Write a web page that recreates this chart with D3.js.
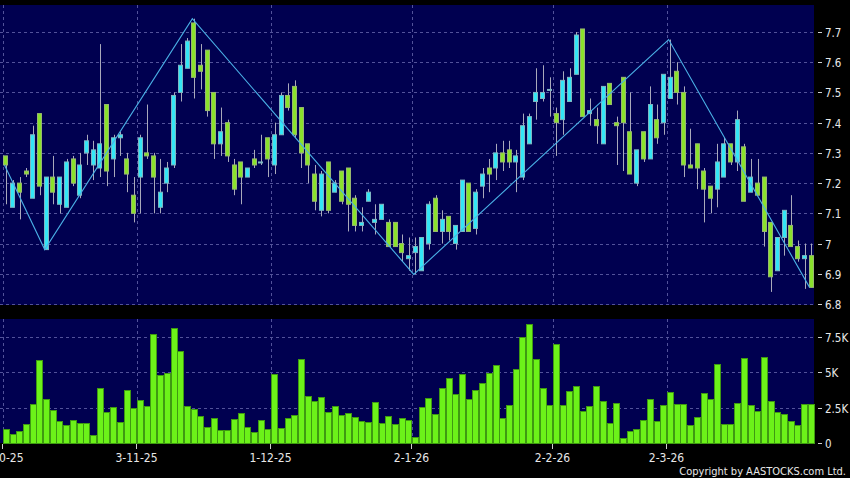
<!DOCTYPE html>
<html><head><meta charset="utf-8">
<script src="https://cdn.jsdelivr.net/npm/d3@7/dist/d3.min.js"></script>
<style>
html,body{margin:0;padding:0;background:#000;}
svg{display:block;}
text{font-family:"DejaVu Sans Condensed","DejaVu Sans",sans-serif;font-stretch:condensed;fill:#e8e8e8;}
</style></head>
<body>
<svg id="chart" width="850" height="478"></svg>
<script>
// ---------- DATA ----------
const dates = [
"2-10-25","3-10-25","6-10-25","8-10-25","9-10-25","10-10-25","13-10-25","14-10-25","15-10-25","16-10-25",
"17-10-25","20-10-25","21-10-25","22-10-25","23-10-25","24-10-25","27-10-25","28-10-25","30-10-25","31-10-25",
"3-11-25","4-11-25","5-11-25","6-11-25","7-11-25","10-11-25","11-11-25","12-11-25","13-11-25","14-11-25",
"17-11-25","18-11-25","19-11-25","20-11-25","21-11-25","24-11-25","25-11-25","26-11-25","27-11-25","28-11-25",
"1-12-25","2-12-25","3-12-25","4-12-25","5-12-25","8-12-25","9-12-25","10-12-25","11-12-25","12-12-25",
"15-12-25","16-12-25","17-12-25","18-12-25","19-12-25","22-12-25","23-12-25","24-12-25","29-12-25","30-12-25","31-12-25",
"2-1-26","5-1-26","6-1-26","7-1-26","8-1-26","9-1-26","12-1-26","13-1-26","14-1-26","15-1-26",
"16-1-26","19-1-26","20-1-26","21-1-26","22-1-26","23-1-26","26-1-26","27-1-26","28-1-26","29-1-26","30-1-26",
"2-2-26","3-2-26","4-2-26","5-2-26","6-2-26","9-2-26","10-2-26","11-2-26","12-2-26","13-2-26",
"16-2-26","20-2-26","23-2-26","24-2-26","25-2-26","26-2-26","27-2-26",
"2-3-26","3-3-26","4-3-26","5-3-26","6-3-26","9-3-26","10-3-26","11-3-26","12-3-26","13-3-26",
"16-3-26","17-3-26","18-3-26","19-3-26","20-3-26","23-3-26","24-3-26","25-3-26","26-3-26","27-3-26","30-3-26","31-3-26"
];
const open = [
7.29,7.12,7.20,7.24,7.15,7.43,6.98,7.22,7.13,7.12, 7.28,7.16,7.30,7.26,7.25,7.46,7.28,7.35,7.28,7.16,
7.22,7.30,7.29,7.12,7.20,7.26,7.50,7.58,7.73,7.59, 7.64,7.50,7.33,7.40,7.26,7.27,7.22,7.28,7.27,7.35,
7.26,7.36,7.49,7.52,7.45,7.33,7.23,7.11,7.27,7.17, 7.24,7.25,7.15,7.06,7.14,7.07,7.08,7.07,7.07,7.00,6.95,
6.97,6.91,7.00,7.15,7.04,7.09,7.00,7.04,7.20,7.05, 7.19,7.25,7.25,7.30,7.31,7.27,7.22,7.33,7.47,7.48,7.51,
7.43,7.41,7.47,7.56,7.71,7.43,7.41,7.33,7.53,7.40, 7.55,7.37,7.20,7.37,7.28,7.41,7.40,
7.48,7.57,7.50,7.26,7.33,7.24,7.19,7.18,7.22,7.33, 7.27,7.32,7.17,7.20,7.22,7.07,6.91,7.02,7.06,6.99,6.95,6.96
];
const high = [
7.29,7.21,7.22,7.25,7.39,7.43,7.22,7.29,7.22,7.28, 7.29,7.30,7.36,7.34,7.66,7.46,7.36,7.37,7.30,7.22,
7.36,7.46,7.30,7.28,7.27,7.50,7.66,7.68,7.744,7.66, 7.64,7.50,7.45,7.41,7.28,7.27,7.25,7.31,7.36,7.35,
7.40,7.50,7.53,7.54,7.45,7.33,7.26,7.24,7.27,7.21, 7.24,7.25,7.16,7.12,7.18,7.13,7.13,7.08,7.07,7.03,7.02,
7.02,7.02,7.14,7.16,7.11,7.09,7.06,7.21,7.20,7.18, 7.25,7.28,7.33,7.34,7.34,7.31,7.43,7.43,7.58,7.59,7.55,
7.45,7.57,7.58,7.70,7.71,7.48,7.45,7.52,7.53,7.42, 7.55,7.50,7.31,7.37,7.52,7.46,7.56,
7.675,7.60,7.52,7.38,7.33,7.25,7.19,7.33,7.35,7.33, 7.44,7.33,7.28,7.28,7.22,7.07,7.02,7.11,7.16,7.01,7.00,7.00
];
const low = [
7.13,7.12,7.08,7.22,7.15,7.16,6.98,7.13,7.10,7.12, 7.19,7.15,7.26,7.21,7.22,7.19,7.22,7.29,7.17,7.07,
7.10,7.28,7.10,7.10,7.17,7.25,7.47,7.58,7.48,7.51, 7.42,7.28,7.29,7.27,7.16,7.13,7.22,7.25,7.26,7.22,
7.23,7.36,7.44,7.35,7.25,7.20,7.11,7.09,7.10,7.17, 7.13,7.04,7.04,7.04,7.14,7.03,7.08,6.99,6.99,6.94,6.91,
6.898,6.91,6.98,7.04,7.00,7.01,6.98,7.04,7.04,7.03, 7.15,7.17,7.21,7.24,7.25,7.17,7.21,7.33,7.41,7.47,7.42,
7.29,7.36,7.47,7.56,7.42,7.39,7.33,7.33,7.46,7.26, 7.24,7.23,7.19,7.27,7.28,7.33,7.36,
7.48,7.46,7.22,7.25,7.18,7.07,7.10,7.12,7.22,7.26, 7.24,7.14,7.17,7.16,6.99,6.84,6.91,6.96,6.99,6.94,6.85,6.855
];
const close = [
7.26,7.20,7.17,7.23,7.36,7.19,7.22,7.17,7.22,7.27, 7.20,7.26,7.34,7.31,7.33,7.24,7.35,7.36,7.23,7.10,
7.35,7.29,7.22,7.17,7.25,7.49,7.59,7.67,7.55,7.57, 7.44,7.33,7.37,7.29,7.18,7.22,7.25,7.26,7.27,7.28,
7.36,7.49,7.45,7.36,7.30,7.26,7.14,7.23,7.11,7.20, 7.14,7.13,7.06,7.07,7.17,7.08,7.13,6.99,6.99,6.97,6.96,
6.99,7.02,7.13,7.04,7.08,7.04,7.06,7.21,7.04,7.17, 7.23,7.23,7.30,7.27,7.27,7.29,7.39,7.42,7.50,7.50,7.51,
7.40,7.54,7.55,7.69,7.42,7.44,7.39,7.52,7.46,7.39, 7.40,7.23,7.31,7.28,7.46,7.35,7.56,
7.55,7.50,7.26,7.25,7.25,7.18,7.15,7.27,7.33,7.27, 7.41,7.14,7.22,7.16,7.04,6.89,7.02,7.11,6.99,6.95,6.96,6.855
];
const volume = [ // thousands of shares
0.92,0.61,0.78,1.27,2.74,5.83,3.04,2.26,1.49,1.23, 1.58,1.39,1.39,0.52,3.87,2.12,2.52,1.46,3.68,2.41,
2.97,2.57,7.64,4.76,4.91,8.11,6.46,2.55,2.36,1.89, 1.11,1.72,0.90,0.90,1.65,2.05,1.11,0.75,1.56,0.97,
4.86,0.99,1.70,1.93,5.87,3.28,2.90,3.23,2.12,2.59, 1.93,2.08,1.79,1.51,1.42,2.85,1.37,1.84,1.32,1.75,1.60,
0.42,2.50,3.11,2.00,3.87,4.55,3.42,4.83,3.04,3.70, 4.22,4.93,5.50,1.72,2.64,5.17,7.41,8.35,5.87,3.82,2.62,
6.98,2.67,3.63,3.96,2.19,2.57,3.99,2.92,1.37,2.78, 0.33,0.80,0.92,1.60,3.04,1.53,2.64,
3.58,2.74,2.69,1.25,1.79,3.49,3.04,5.52,1.34,1.34, 2.78,5.94,2.62,2.19,6.06,2.95,2.12,2.00,1.53,1.20,2.69,2.74
];
const zigzagDates = ["2-10-25","13-10-25","13-11-25","2-1-26","2-3-26","31-3-26"];
const zigzagValues = [7.26, 6.98, 7.744, 6.898, 7.675, 6.855];
const tickLabels = ["2-10-25","3-11-25","1-12-25","2-1-26","2-2-26","2-3-26"];
const priceTicks = [6.8,6.9,7.0,7.1,7.2,7.3,7.4,7.5,7.6,7.7];
const volTicks = [0,2.5,5,7.5];
const volTickLabels = ["0","2.5K","5K","7.5K"];

// ---------- CHART ----------
const svg = d3.select("#chart");
svg.append("rect").attr("width",850).attr("height",478).attr("fill","#000");

const panelL = 0, panelR = 814;
const pTop = 5, pBot = 305, vTop = 319, vBot = 443;

const x = d3.scaleBand().domain(dates).range([2.8, 814.6]).padding(0);
const bw = x.bandwidth();
const y = d3.scaleLinear().domain([6.8, 7.7]).range([304, 32]);
const yv = d3.scaleLinear().domain([0, 7.5]).range([443, 336.7]);

const gridCol = "#52529a";
const data = dates.map((d,i)=>({d, o:open[i], h:high[i], l:low[i], c:close[i], v:volume[i]}));

// panels
svg.append("rect").attr("x",panelL).attr("y",pTop).attr("width",panelR-panelL).attr("height",pBot-pTop).attr("fill","#000050");
svg.append("rect").attr("x",panelL).attr("y",vTop).attr("width",panelR-panelL).attr("height",vBot-vTop).attr("fill","#000050");

const grid = svg.append("g").attr("stroke",gridCol).attr("stroke-width",1).attr("stroke-dasharray","3,3").attr("shape-rendering","crispEdges");
priceTicks.forEach(t=>{
  grid.append("line").attr("x1",panelL).attr("x2",panelR).attr("y1",Math.round(y(t))+0.5).attr("y2",Math.round(y(t))+0.5);
});
volTicks.slice(1).forEach(t=>{
  grid.append("line").attr("x1",panelL).attr("x2",panelR).attr("y1",Math.round(yv(t))+0.5).attr("y2",Math.round(yv(t))+0.5);
});
tickLabels.forEach(t=>{
  const gx = Math.round(x(t))+0.5;
  grid.append("line").attr("x1",gx).attr("x2",gx).attr("y1",pTop).attr("y2",pBot);
  grid.append("line").attr("x1",gx).attr("x2",gx).attr("y1",vTop).attr("y2",vBot);
});

// candles
const cg = svg.append("g");
const bodyW = bw*0.8;
data.forEach(k=>{
  const cx = Math.round(x(k.d)+bw/2);
  cg.append("line").attr("x1",cx+0.5).attr("x2",cx+0.5).attr("y1",y(k.h)).attr("y2",y(k.l))
    .attr("stroke","#a9a9bb").attr("stroke-width",1);
});
data.forEach(k=>{
  const cx = x(k.d)+bw/2;
  const up = k.c >= k.o;
  const top = y(Math.max(k.o,k.c)), bot = y(Math.min(k.o,k.c));
  cg.append("rect").attr("x",Math.round(cx-bodyW/2)+0.5).attr("y",top)
    .attr("width",Math.round(bodyW)-1).attr("height",Math.max(1,bot-top))
    .attr("fill", up ? "#33e6f6" : "#8ae22c")
    .attr("stroke", up ? "#7fb6c2" : "#98b870").attr("stroke-width",1);
});

// zigzag
const zz = zigzagDates.map((d,i)=>[x(d)+bw*0.25, y(zigzagValues[i])]);
svg.append("path").attr("d", d3.line()(zz)).attr("fill","none").attr("stroke","#4ab0e6").attr("stroke-width",1.1);

// volume bars
const vg = svg.append("g").attr("shape-rendering","crispEdges");
data.forEach(k=>{
  vg.append("rect").attr("x",Math.round(x(k.d))+0.5).attr("y",yv(k.v))
    .attr("width",Math.round(bw)-1).attr("height",yv(0)-yv(k.v))
    .attr("fill","#6cf219").attr("stroke","#3f9a12").attr("stroke-width",1);
});

// right axes
const ax = svg.append("g");
priceTicks.forEach(t=>{
  const ty = Math.round(y(t))+0.5;
  ax.append("line").attr("x1",818).attr("x2",822).attr("y1",ty).attr("y2",ty).attr("stroke","#cfcfcf");
  ax.append("text").attr("x",825).attr("y",ty).attr("dy","0.36em").attr("font-size",11.5)
    .text(d3.format("")(t));
});
volTicks.forEach((t,i)=>{
  const ty = Math.round(yv(t))+0.5;
  ax.append("line").attr("x1",818).attr("x2",822).attr("y1",ty).attr("y2",ty).attr("stroke","#cfcfcf");
  ax.append("text").attr("x",825).attr("y",ty).attr("dy","0.36em").attr("font-size",11.5).text(volTickLabels[i]);
});

// x axis
tickLabels.forEach(t=>{
  const gx = Math.round(x(t))-0.5;
  ax.append("line").attr("x1",gx).attr("x2",gx).attr("y1",444).attr("y2",449).attr("stroke","#cfcfcf");
  ax.append("text").attr("x",gx).attr("y",462).attr("text-anchor","middle").attr("font-size",12).text(t);
});

svg.append("text").attr("x",846).attr("y",474.5).attr("text-anchor","end").attr("font-size",11).text("Copyright by AASTOCKS.com Ltd.");
</script>
</body></html>
